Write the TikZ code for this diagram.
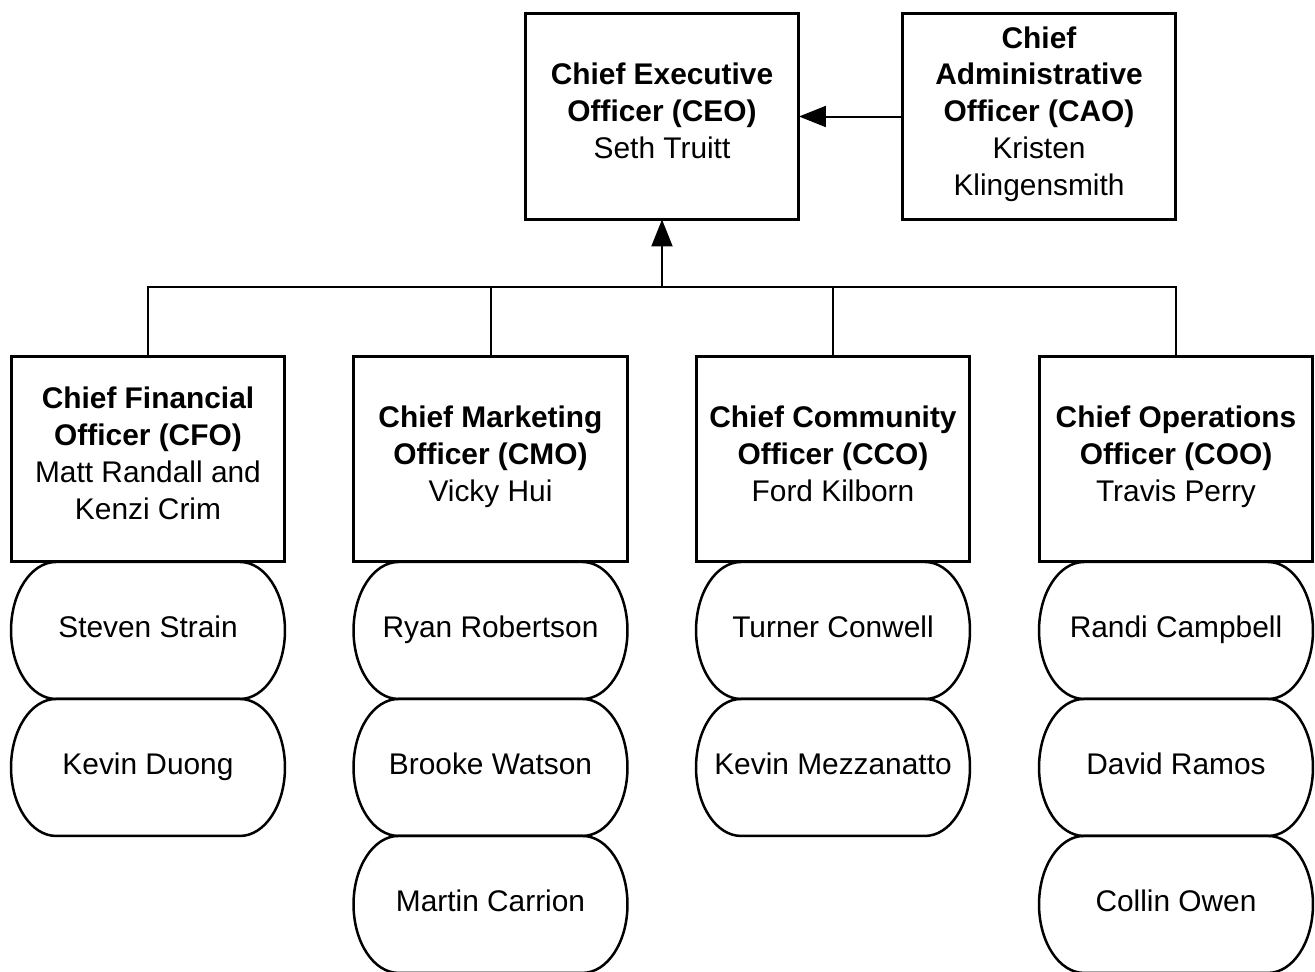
\documentclass[tikz,border=0pt]{standalone}
\usepackage{fontspec}
\setmainfont{Liberation Sans}
\usetikzlibrary{positioning,arrows.meta}

\tikzset{
    box/.style={draw, line width=0.06cm, minimum width=5.48cm, minimum height=4.12cm,
        align=center, outer sep=0pt, font=\fontsize{17}{21}\selectfont,
        execute at begin node=\strut, execute at end node=\strut},
    pill/.style={minimum width=5.48cm, minimum height=2.74cm, outer sep=0pt,
        align=center, font=\fontsize{17}{21}\selectfont,
        execute at begin node=\strut, execute at end node=\strut},
    link/.style={line width=0.04cm},
    tip/.style={-{Triangle[length=0.54cm,width=0.42cm]}}
}

\begin{document}
\begin{tikzpicture}[x=0.02cm,y=-0.02cm]
        \useasboundingbox (0,0) rectangle (1315,971);

        % top row
        \node[box] (ceo) at (662,116.5) {\textbf{Chief Executive}\\\textbf{Officer (CEO)}\\Seth Truitt};
        \node[box] (cao) at (1039,116.5) {\textbf{Chief}\\\textbf{Administrative}\\\textbf{Officer (CAO)}\\Kristen\\Klingensmith};

        % officers
        \node[box] (cfo) at (148,459) {\textbf{Chief Financial}\\\textbf{Officer (CFO)}\\Matt Randall and\\Kenzi Crim};
        \node[box] (cmo) at (490.5,459) {\textbf{Chief Marketing}\\\textbf{Officer (CMO)}\\Vicky Hui};
        \node[box] (cco) at (833,459) {\textbf{Chief Community}\\\textbf{Officer (CCO)}\\Ford Kilborn};
        \node[box] (coo) at (1176,459) {\textbf{Chief Operations}\\\textbf{Officer (COO)}\\Travis Perry};

        % team members
        \node[pill, below=0pt of cfo] (strain) {Steven Strain};
        \node[pill, below=0pt of strain] (duong) {Kevin Duong};
        \node[pill, below=0pt of cmo] (robertson) {Ryan Robertson};
        \node[pill, below=0pt of robertson] (watson) {Brooke Watson};
        \node[pill, below=0pt of watson] (carrion) {Martin Carrion};
        \node[pill, below=0pt of cco] (conwell) {Turner Conwell};
        \node[pill, below=0pt of conwell] (mezzanatto) {Kevin Mezzanatto};
        \node[pill, below=0pt of coo] (campbell) {Randi Campbell};
        \node[pill, below=0pt of campbell] (ramos) {David Ramos};
        \node[pill, below=0pt of ramos] (owen) {Collin Owen};

        \foreach \n in {strain,duong,robertson,watson,carrion,conwell,mezzanatto,campbell,ramos,owen}
            \draw[line width=0.05cm] ([xshift=0.9cm]\n.north west) -- ([xshift=-0.9cm]\n.north east)
                arc[start angle=90, end angle=-90, x radius=0.9cm, y radius=1.37cm]
                -- ([xshift=0.9cm]\n.south west)
                arc[start angle=270, end angle=90, x radius=0.9cm, y radius=1.37cm];

        % connectors
        \coordinate (hub) at (662,287);
        \draw[link] (cfo.north) -- (cfo.north |- hub) -- (coo.north |- hub) -- (coo.north);
        \draw[link] (cmo.north) -- (cmo.north |- hub);
        \draw[link] (cco.north) -- (cco.north |- hub);
        \draw[link, tip] (hub) -- (ceo.south);
        \draw[link, tip] (cao.west) -- (ceo.east);
    \end{tikzpicture}
\end{document}
